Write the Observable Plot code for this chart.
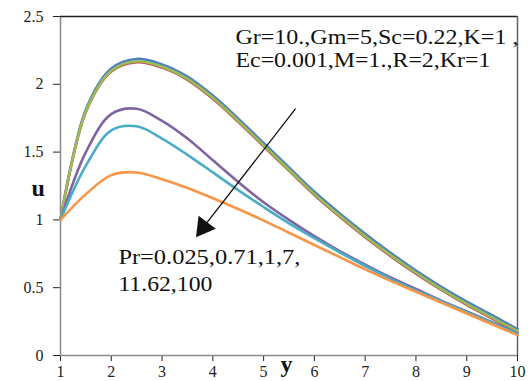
<!DOCTYPE html>
<html>
<head>
<meta charset="utf-8">
<script src="https://cdn.jsdelivr.net/npm/d3@7"></script>
<script src="https://cdn.jsdelivr.net/npm/@observablehq/plot@0.6"></script>
<style>
  html, body { margin: 0; padding: 0; background: #fff; }
  #chart svg { display: block; }
</style>
</head>
<body>
<div id="chart"></div>
<script>
// ---- data ----
const yPos = [1, 1.5, 2, 2.5, 3, 3.5, 4, 4.5, 5, 5.5, 6, 6.5, 7, 7.5, 8, 8.5, 9, 9.5, 10];
const seriesNames = ["Pr=0.025", "Pr=0.71", "Pr=1", "Pr=7", "Pr=11.62", "Pr=100"];
const seriesColors = ["#4F81BD", "#C0504D", "#9BBB59", "#8064A2", "#4BACC6", "#F79646"];
const uPr0025 = [1.0, 1.815, 2.117, 2.187, 2.147, 2.057, 1.917, 1.747, 1.567, 1.387, 1.207, 1.047, 0.897, 0.757, 0.627, 0.507, 0.397, 0.297, 0.195];
const uPr071  = [1.0, 1.795, 2.094, 2.163, 2.123, 2.033, 1.893, 1.723, 1.543, 1.363, 1.183, 1.023, 0.873, 0.733, 0.603, 0.483, 0.373, 0.273, 0.173];
const uPr1    = [1.0, 1.80, 2.10, 2.17, 2.13, 2.04, 1.90, 1.73, 1.55, 1.37, 1.19, 1.03, 0.88, 0.74, 0.61, 0.49, 0.38, 0.28, 0.18];
const uPr7    = [1.0, 1.50, 1.78, 1.82, 1.73, 1.60, 1.44, 1.28, 1.13, 1.00, 0.88, 0.77, 0.67, 0.575, 0.49, 0.405, 0.325, 0.245, 0.165];
const uPr1162 = [1.0, 1.40, 1.66, 1.69, 1.60, 1.48, 1.35, 1.22, 1.095, 0.975, 0.865, 0.76, 0.66, 0.565, 0.48, 0.40, 0.32, 0.24, 0.16];
const uPr100  = [1.0, 1.19, 1.33, 1.35, 1.30, 1.235, 1.16, 1.08, 0.995, 0.905, 0.815, 0.725, 0.635, 0.55, 0.47, 0.39, 0.31, 0.23, 0.15];
const xTicks = [1, 2, 3, 4, 5, 6, 7, 8, 9, 10];
const yTicks = [0, 0.5, 1, 1.5, 2, 2.5];
const paramLines = ["Gr=10.,Gm=5,Sc=0.22,K=1 ,", "Ec=0.001,M=1.,R=2,Kr=1"];
const paramX = [4.445, 4.445];
const paramY = [2.30, 2.13];
const prLines = ["Pr=0.025,0.71,1,7,", "11.62,100"];
const prX = [2.14, 2.14];
const prY = [0.676, 0.478];
const arrowFrom = {x: 5.63, y: 1.82};
const arrowTo = {x: 3.72, y: 0.90};

// ---- table ----
const allSeries = [uPr0025, uPr071, uPr1, uPr7, uPr1162, uPr100];
const rows = [];
allSeries.forEach((vals, i) => vals.forEach((v, j) => rows.push({s: seriesNames[i], y: yPos[j], u: v})));

const serif = "'Liberation Serif', 'Times New Roman', serif";
// rendered text widths (px) to mimic the reference's slightly stretched lettering
const annWidth = {
  "Gr=10.,Gm=5,Sc=0.22,K=1 ,": 283,
  "Ec=0.001,M=1.,R=2,Kr=1": 255,
  "Pr=0.025,0.71,1,7,": 182,
  "11.62,100": 94
};

const chart = Plot.plot({
  width: 529,
  height: 381,
  marginLeft: 60,
  marginRight: 12,
  marginTop: 16,
  marginBottom: 26,
  style: {fontSize: "16px", fontFamily: serif, color: "#222", background: "#fff"},
  x: {domain: [1, 10], ticks: xTicks, tickSize: 6, tickPadding: 4, tickFormat: d => String(d), label: null},
  y: {domain: [0, 2.5], ticks: yTicks, tickSize: 7, tickPadding: 10, tickFormat: d => String(d), label: null},
  color: {domain: seriesNames, range: seriesColors},
  marks: [
    Plot.ruleX([1], {stroke: "#8a8a8a", strokeWidth: 1.5}),
    Plot.ruleY([0], {stroke: "#8a8a8a", strokeWidth: 1.5}),
    Plot.ruleY([2.5], {stroke: "#222", strokeWidth: 1.5}),
    Plot.ruleX([10], {stroke: "#666", strokeWidth: 1.5}),
    Plot.line(rows, {x: "y", y: "u", z: "s", stroke: "s", strokeWidth: 2.6, curve: "catmull-rom"}),
    Plot.link([arrowFrom], {x1: "x", y1: "y", x2: d => arrowTo.x + (arrowFrom.x - arrowTo.x) * 0.06, y2: d => arrowTo.y + (arrowFrom.y - arrowTo.y) * 0.06, stroke: "#111", strokeWidth: 1.3}),
    Plot.dot([arrowTo], {x: d => d.x + (arrowFrom.x - arrowTo.x) * 0.05, y: d => d.y + (arrowFrom.y - arrowTo.y) * 0.05, symbol: "triangle", r: 8, fill: "#111", stroke: null, rotate: 217}),
    Plot.text(paramLines, {x: (d, i) => paramX[i], y: (d, i) => paramY[i], text: d => d, textAnchor: "start", lineAnchor: "bottom", fontSize: 22, fontFamily: serif, fill: "#111", className: "ann"}),
    Plot.text(prLines, {x: (d, i) => prX[i], y: (d, i) => prY[i], text: d => d, textAnchor: "start", lineAnchor: "bottom", fontSize: 22, fontFamily: serif, fill: "#111", className: "ann"}),
    Plot.text(["u"], {frameAnchor: "left", dx: -29, dy: 2, fontWeight: "bold", fontSize: 24, fontFamily: serif, fill: "#111"}),
    Plot.text(["y"], {x: [5.45], frameAnchor: "bottom", dy: 16, fontWeight: "bold", fontSize: 24, fontFamily: serif, fill: "#111"})
  ]
});
document.getElementById("chart").appendChild(chart);
// force the serif face on every label (ticks included)
d3.select(chart).selectAll("text").style("font-family", serif);
// stretch annotation lettering to the reference widths
d3.select(chart).selectAll("g.ann text").each(function () {
  const w = annWidth[this.textContent];
  if (w) { this.setAttribute("textLength", w); this.setAttribute("lengthAdjust", "spacingAndGlyphs"); }
});
</script>
</body>
</html>
